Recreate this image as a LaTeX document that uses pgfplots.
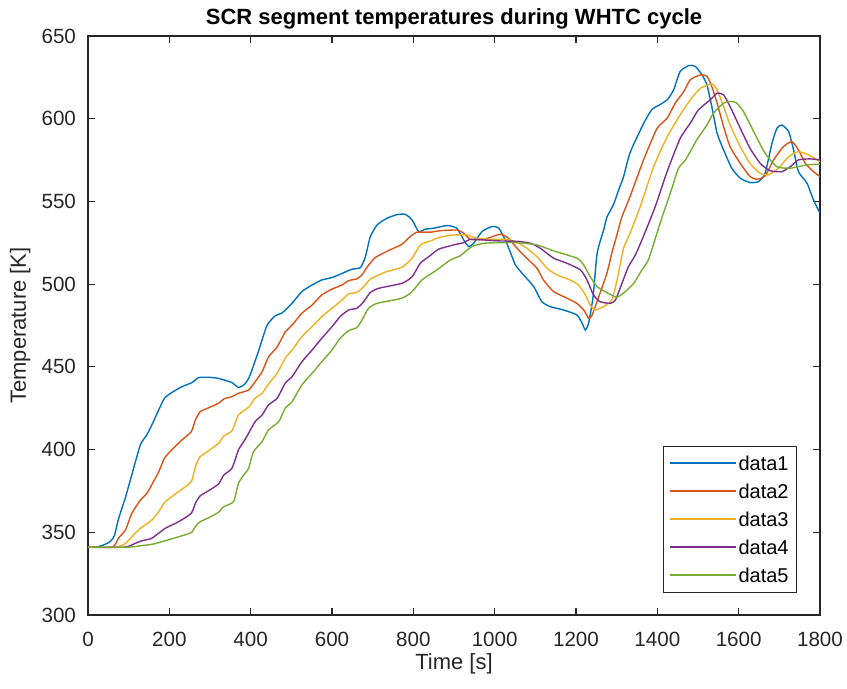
\documentclass[border=0pt]{standalone}
\usepackage{fontspec}
\setmainfont{Liberation Sans}
\usepackage{pgfplots}
\pgfplotsset{compat=1.18}
\definecolor{c1}{rgb}{0,0.447,0.741}
\definecolor{c2}{rgb}{0.850,0.325,0.098}
\definecolor{c3}{rgb}{0.929,0.694,0.125}
\definecolor{c4}{rgb}{0.494,0.184,0.556}
\definecolor{c5}{rgb}{0.466,0.674,0.188}
\definecolor{axg}{rgb}{0.15,0.15,0.15}
\begin{document}
\begin{tikzpicture}
\useasboundingbox (-44pt,-37pt) rectangle (379.5pt,307.5pt);
\begin{axis}[
  at={(0,0)}, anchor=south west,
  scale only axis, width=366pt, height=289.5pt,
  xmin=0, xmax=1800, ymin=300, ymax=650,
  xtick={0,200,...,1800}, ytick={300,350,...,650},
  axis line style={axg, line width=0.6pt},
  tick style={axg, line width=0.6pt},
  major tick length=3.5pt,
  tick align=inside,
  /pgf/number format/assume math mode=true,
  /pgf/number format/set thousands separator={},
  tick label style={font=\fontsize{10.3}{12}\selectfont, text=axg},
  xticklabel style={yshift=-5pt},
  yticklabel style={xshift=-2.5pt},
  every axis title/.style={at={(axis description cs:0.5,1.019)}, anchor=base, font=\fontsize{11}{13}\selectfont\bfseries},
  title={SCR segment temperatures during WHTC cycle},
  xlabel={Time [s]},
  ylabel={Temperature [K]},
  label style={font=\fontsize{11}{13}\selectfont, text=axg},
  xlabel style={at={(axis description cs:0.5,-0.095)}, anchor=base},
  ylabel style={at={(axis description cs:-0.0847,0.5)}, anchor=base, rotate=0},
  legend style={at={(axis description cs:1,0)}, anchor=south east, xshift=-11.5pt, yshift=11.25pt,
    draw=axg, line width=0.4pt, font=\fontsize{10}{12}\selectfont, inner xsep=3pt, inner ysep=1.5pt,
    row sep=0pt, nodes={inner ysep=3.35pt, inner xsep=1pt, text height=7.3pt, text depth=0pt}},
  legend cell align=left,
  legend image code/.code={\draw[#1, line width=0.75pt] (0pt,0pt) -- (33pt,0pt);},
  every axis plot/.append style={line width=0.7pt, smooth, tension=0.35},
]
\addplot[c1] coordinates {
(0,341) (20,341) (40,342.5) (55,344.5) (65,348) (75,358) (92,371) (108,385) (129,403) (145,409)
(161,417) (174,424) (188,431) (206,434.5) (231,438) (256,440.5) (272,443.5) (297,443.7) (321,443)
(354,440.5) (370,437.5) (385,439.5) (395,443) (403,448) (420,460) (440,475) (461,481) (477,482.5)
(502,488.5) (526,495.5) (551,499.5) (575,502.5) (600,504) (625,506.5) (649,509) (670,510) (682,516.5)
(694,528.5) (711,535.8) (735,539.8) (760,542) (780,542.2) (797,538.8) (813,531.8) (829,533.2)
(850,533.8) (883,535.4) (907,533.8) (924,526.7) (936,522.7) (948,524.6) (969,531.8) (993,534.8)
(1010,533.8) (1026,526.7) (1038,519.7) (1051,511.6) (1071,505.6) (1096,498.5) (1116,489.4)
(1137,486.4) (1169,484.4) (1202,481.4) (1215,476.4) (1223,472.3) (1231,476.4) (1242,492.4)
(1252,518.7) (1268,532.8) (1276,540.5) (1292,548) (1305,557) (1317,565) (1333,579.5) (1366,597)
(1387,605.7) (1403,608) (1424,611.4) (1440,617.4) (1456,628.5) (1477,632.1) (1493,631.7) (1510,626.5)
(1522,620.4) (1534,607.3) (1547,591.2) (1563,581.1) (1583,570.1) (1604,564) (1628,561.4) (1649,562)
(1665,567) (1682,585.2) (1694,594.2) (1706,596.2) (1723,592.2) (1735,581.1) (1747,568) (1768,561)
(1784,550.9) (1800,542.9)
};
\addlegendentry{data1}
\addplot[c2] coordinates {
(0,341) (60,341) (75,346.4) (92,351.4) (108,361.5) (129,369.5) (145,373.6) (161,380.6) (174,386.6)
(188,394.7) (206,399.8) (231,405.8) (254,410.8) (264,417.9) (276,422.9) (297,425.3) (321,428)
(334,430.6) (354,432) (370,434) (395,436) (411,441) (428,447) (444,456) (465,462) (485,471)
(502,475.3) (526,482.4) (551,487.4) (575,493.5) (600,497) (625,499.5) (641,502.1) (661,503.2)
(674,505.6) (686,510.2) (706,516) (739,520.3) (772,524.1) (792,528.7) (809,531.4) (842,531.4)
(866,532.3) (907,532.7) (924,530.8) (940,527.1) (973,527.1) (1014,530.1) (1034,527.7) (1055,521.7)
(1079,515.7) (1104,509.6) (1120,502.5) (1145,495.5) (1178,491.5) (1202,488.4) (1219,484.4)
(1231,479.4) (1239,481) (1256,492.4) (1276,506.6) (1288,518.7) (1301,530) (1313,540.8) (1333,553)
(1366,575) (1399,594) (1424,600.3) (1444,609.4) (1465,616.4) (1481,623.5) (1506,626.5) (1522,625.7)
(1534,619.4) (1547,609.4) (1563,595.2) (1579,583.1) (1604,573) (1628,565) (1645,563.4) (1665,565.4)
(1686,575.1) (1710,583.1) (1731,586.1) (1747,581.1) (1764,573) (1784,568) (1800,565)
};
\addlegendentry{data2}
\addplot[c3] coordinates {
(0,341) (70,341) (92,343.3) (112,348.4) (129,352.4) (157,357.4) (174,362.5) (190,368.5) (223,374.6)
(254,380.6) (264,389.7) (276,395.7) (297,399.3) (321,403.8) (334,408.2) (354,411.4) (370,420.9)
(395,425.6) (411,431) (428,434) (444,439.7) (465,446.1) (485,455.2) (502,460.2) (526,468.3)
(551,474.3) (575,480.4) (600,485.4) (625,490.4) (641,494.1) (661,495) (678,498.5) (694,503)
(715,505.6) (735,507.6) (772,510.2) (797,515.7) (817,523.7) (842,526.1) (866,528.4) (899,529.7)
(932,529.7) (956,527.7) (989,527.1) (1030,527.1) (1055,525.3) (1079,521.7) (1104,516.6) (1129,509.6)
(1153,505.6) (1186,502.5) (1206,499.5) (1223,493.5) (1235,487.4) (1247,484.4) (1268,486.4)
(1288,490.4) (1301,502.5) (1317,521.7) (1333,530.8) (1358,546.9) (1391,571) (1424,589) (1456,602.3)
(1481,611.4) (1506,618.4) (1534,621) (1547,617.4) (1563,607.3) (1579,596.2) (1604,583.1) (1628,573)
(1653,567) (1673,566) (1698,570.1) (1723,577.1) (1747,580.1) (1772,578.1) (1800,574.1)
};
\addlegendentry{data3}
\addplot[c4] coordinates {
(0,341) (90,341) (116,343.3) (133,344.9) (157,346.4) (190,352.4) (223,356.4) (254,361.5) (264,367.5)
(276,372) (297,375.2) (321,379.2) (334,384.6) (354,388.7) (370,399.8) (383,404.8) (395,409.9)
(411,416.9) (428,420.9) (444,427) (465,431) (485,440.1) (502,444.1) (526,453.1) (551,460.2)
(575,467.3) (600,474.3) (620,480.4) (641,484.4) (661,485.4) (678,489.4) (694,494.9) (715,497.5)
(772,500.5) (797,504.5) (817,512.6) (838,516.6) (862,521.1) (899,523.7) (924,525.1) (940,527.1)
(973,526.7) (1014,526.1) (1055,525.9) (1088,524.7) (1112,521.7) (1145,515.7) (1178,512.6)
(1211,508.6) (1227,502.5) (1243,493.5) (1259,489.4) (1284,488.4) (1297,490.4) (1313,500.5)
(1329,510.6) (1346,517.6) (1366,529) (1395,547) (1424,568) (1456,588) (1481,597.3) (1501,605.3)
(1530,611.4) (1547,615.4) (1563,614.4) (1579,607.3) (1604,594.2) (1628,582.1) (1653,573)
(1677,568.6) (1706,568) (1727,571) (1747,575.1) (1776,575.7) (1800,575.1)
};
\addlegendentry{data4}
\addplot[c5] coordinates {
(0,341) (100,341) (133,342) (157,342.7) (182,344.3) (223,347.3) (254,349.8) (264,353.4) (276,356.4)
(297,358.8) (321,362.1) (334,365.5) (358,368.5) (370,379.6) (383,384.6) (395,388.7) (407,398.7)
(428,404.8) (444,411.9) (469,416.9) (485,425) (502,429) (526,439.1) (551,446.1) (575,453.1)
(600,460.2) (620,467.3) (641,471.9) (661,473.7) (674,478.4) (690,485.4) (711,488.4) (772,491.5)
(797,495.5) (821,502.5) (858,508.6) (891,514.6) (915,517.1) (944,522.7) (973,524.7) (1014,525.1)
(1055,525.1) (1104,523.7) (1145,520.1) (1202,515.7) (1219,511.6) (1235,504.5) (1252,498.5)
(1276,494.9) (1301,492.1) (1321,495.5) (1342,500.5) (1362,508.6) (1378,514.6) (1399,530.8)
(1415,542.9) (1432,555) (1452,570) (1469,575) (1497,587.2) (1522,596.2) (1538,603.3) (1563,609.4)
(1580,610.5) (1595,609.5) (1612,604.3) (1637,592.2) (1665,579.1) (1694,571) (1727,570.1) (1768,572.1)
(1800,572.5)
};
\addlegendentry{data5}
\end{axis}
\end{tikzpicture}
\end{document}
